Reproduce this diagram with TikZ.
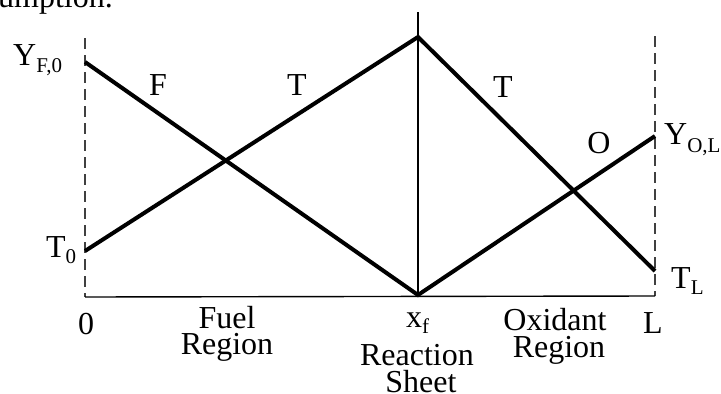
\documentclass[tikz,border=0pt]{standalone}
\usepackage{fontspec}
\setmainfont{Liberation Serif}
\newcommand\mysub[2][-7pt]{\raisebox{#1}{\fontsize{21}{21}\selectfont #2}}
\begin{document}
\begin{tikzpicture}[x=1pt,y=-1pt,
  thickline/.style={line width=4pt, line join=miter},
  thinline/.style={line width=1.4pt},
  dashline/.style={line width=1.6pt, dash pattern=on 11pt off 6pt, draw=black!75},
  lbl/.style={font=\fontsize{32}{32}\selectfont, inner sep=0pt, anchor=base},
  lblw/.style={lbl, anchor=base west}]
\useasboundingbox (0,0) rectangle (721,394);
% key points
\coordinate (LT) at (85,38);  \coordinate (LB) at (85,297);
\coordinate (RT) at (655,36); \coordinate (RB) at (655,296);
\coordinate (CT) at (418,12); \coordinate (CB) at (418,296);
\coordinate (YF) at (85,62);  \coordinate (T0) at (85,251);
\coordinate (PK) at (418,37); \coordinate (TL) at (655,271);
\coordinate (YO) at (655,136); \coordinate (XF) at (418,295);
% axes and boundaries
\draw[dashline] (LT) -- (LB);
\draw[dashline] (RT) -- (RB);
\draw[thinline] (LB) -- (RB);
\draw[thinline] (CT) -- (CB);
% profiles
\draw[thickline] (T0) -- (PK) -- (TL);
\draw[thickline] (YF) -- (XF) -- (YO);
% labels
\node[lblw] (top) at (-2,7) {umption.};
\node[lblw] (yf0) at (13,65) {Y\mysub{F,0}};
\node[lbl] (fl) at (158,95) {F};
\node[lbl] (tl1) at (297,95) {T};
\node[lbl] (tl2) at (503,97) {T};
\node[lbl] (ol) at (599,153) {O};
\node[lblw] (yol) at (664,144) {Y\mysub[-8pt]{O,L}};
\node[lblw] (t0) at (46,257) {T\mysub[-6pt]{0}};
\node[lblw] (tL) at (671,288) {T\mysub[-6pt]{L}};
\node[lbl] (zero) at (86,334) {0};
\node[lbl] (fuel) at (227,328) {Fuel};
\node[lbl] (reg1) at (227,354) {Region};
\node[lblw] (xf) at (406,327) {x\mysub[-6pt]{f}};
\node[lbl] (reac) at (417,365) {Reaction};
\node[lbl] (sheet) at (421,392) {Sheet};
\node[lbl] (oxid) at (555,330) {Oxidant};
\node[lbl] (reg2) at (559,357) {Region};
\node[lbl] (ll) at (653,333) {L};
\end{tikzpicture}
\end{document}
